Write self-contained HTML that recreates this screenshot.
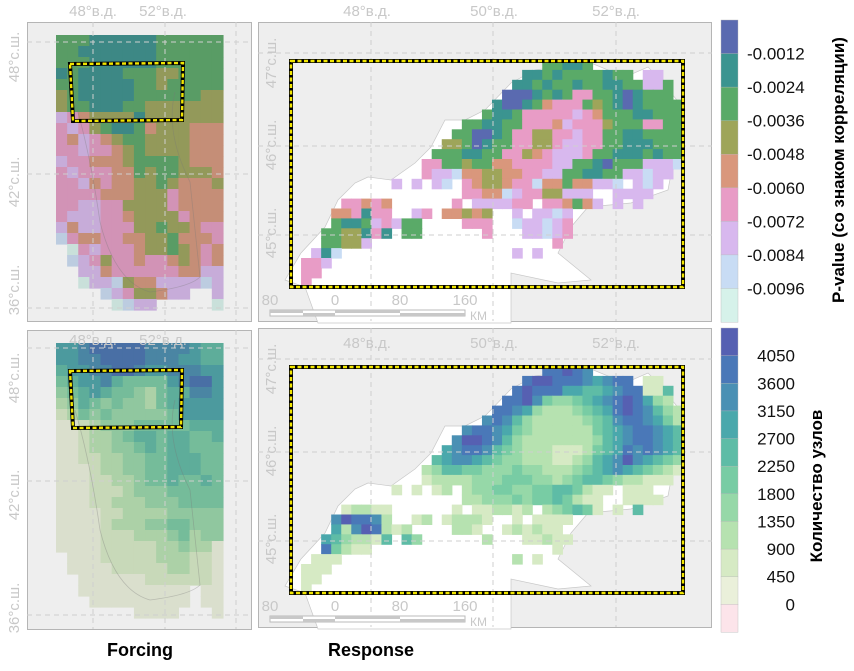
<!DOCTYPE html>
<html><head><meta charset="utf-8">
<style>
body{margin:0;background:#fff;width:854px;height:666px;overflow:hidden;font-family:"Liberation Sans",sans-serif}
svg text{font-family:"Liberation Sans",sans-serif}
</style></head>
<body>
<svg id="fig" width="854" height="666" viewBox="0 0 854 666" xmlns="http://www.w3.org/2000/svg">
<g id="panels"></g>
<g id="legends"></g>
<text x="140" y="656" text-anchor="middle" font-size="18" font-weight="bold">Forcing</text>
<text x="371" y="656" text-anchor="middle" font-size="18" font-weight="bold">Response</text>
</svg>
<script>
// ---- data ----
const pvalColors = ["#5a6ab0","#3b9490","#5aaa68","#9ea55a","#d9977c","#e89cc6","#d8b8ee","#c8dcf4","#d6f2ea"];
const pvalTicks = ["-0.0012","-0.0024","-0.0036","-0.0048","-0.0060","-0.0072","-0.0084","-0.0096"];
const cntColors = ["#5660b2","#4a78b8","#4a90b4","#4aa8ac","#5ebca6","#78cca4","#96d8a8","#b6e2b0","#d6eac4","#eaf0da","#fce4ea"];
const cntTicks = ["4050","3600","3150","2700","2250","1800","1350","900","450","0"];
const forcingP = [
"333222222333333","332222222333333","333222222333333","232222333443333","332222233433333",
"432222233333344","433222334444444","765444424444444","676432235444555","657654334444555",
"667665434444555","766555433334555","676665534334445","667565544345554","666655544465555",
"667766444465555","677766544446555","757766644344566","865566554435556",".96766654434565",
".87646656654565","..7756666665577","..9778455777787","....87644577..7",".....9877.....9"];
const responseP = [
".........................33223.........",
".......................22323333233.77..",
"......................2232332332233773.",
".....................11123236633212333.",
"....................2112356663432123333",
"...................32236666676533322333",
".................3322336665766643336633",
"................33112366446676633223333",
"...............443123366446776633222333",
"..............3332233664567776332223233",
".............66334335566667733213337778",
".............6778554455667733223377877.",
"..........7.7.78.6544566855355778.787..",
".................6655876644777..7777...",
".....66565......6.777766.665357.7.7....",
"....556266..76.55454..7.7787...........",
"....322376733....666..877876...........",
"...3344262.33......6...77876...........",
"...33447..................6............",
"..728.................7.7..............",
".667...................................",
".66....................................",
".6....................................."];
const forcingC = [
"778999998888766","778899998887766","677889987788877","567786555578997","456765543566887",
"346545443567777","235454444457777","112344455555666","112334566566556","112334456566555",
"112233445566655","111233445566655","111223345565565","111222344455555","111223334445555",
"111122333344444","111123334455444","111122233345344","111122222334331",".11122222333221",
".11112222233221","..1111112222221","..1111111111.11","...111111111.11",".......1111...1"];
const responseC = [
".........................99A98.........",
".......................9AA99987899.22..",
"......................9A99977667899226.",
".....................99A854456789A9743.",
"....................9987433345679A98643",
"...................89864333334568998753",
".................8998754333333567899876",
"................8AA98643333333467899876",
"...............789986543332223567989876",
"..............6788765443332234678A87654",
".............34665544454433345678765432",
".............2333344455544345665433222.",
"..........2.2.23.344554455665322.222...",
".................33444545565322..2222...",
".....23322......2.223323.345652.2.6....",
"....8A9983..23.23332..2.2222...........",
"....738A9323....332..232322............",
"...7643326.64......3...22322...........",
"...95322..................2............",
"..222.................3.2..............",
".222...................................",
".22....................................",
".2....................................."];
const sea = [[285,280],[301,253],[325,227],[338,200],[355,183],[368,177],[391,180],[415,163],[431,147],[445,120],[465,120],[485,110],[511,83],[535,70],[591,63],[625,77],[648,67],[658,77],[685,110],[675,153],[668,190],[631,203],[588,207],[571,227],[558,253],[591,280],[558,283],[511,273],[511,323],[318,323],[305,287]];

const NS="http://www.w3.org/2000/svg";
function mk(tag,attrs,parent){const e=document.createElementNS(NS,tag);for(const k in attrs)e.setAttribute(k,attrs[k]);parent.appendChild(e);return e;}
const panels=document.getElementById('panels');
function codeIdx(ch){ if(ch==='.')return -1; if(ch==='A')return 9; return parseInt(ch)-1; }
function grid(parent,rows,x0,y0,cw,ch,colorFn,name){
  const g=mk('g',{},parent);
  
  
  rows.forEach((r,ri)=>{for(let ci=0;ci<r.length;ci++){const k=codeIdx(r[ci]);if(k<0)continue;
    const c=mk('rect',{x:x0+ci*cw,y:y0+ri*ch,width:cw+0.6,height:ch+0.6,fill:colorFn(k)},g);
    
    }});
  return g;
}
const pColor=k=>pvalColors[k];
const cColor=k=>cntColors[9-k];
function dashLine(p,x1,y1,x2,y2){mk('line',{x1,y1,x2,y2,stroke:'#cfcfcf','stroke-width':1,'stroke-dasharray':'5,4'},p);}
function leftPanel(oy,rows,colorFn,name,gy,lonY,latY,box){
  const g=mk('g',{},panels);
  
  
  mk('rect',{x:27.5,y:oy+0.5,width:224,height:299,fill:'#eeeeee',stroke:'#b5b5b5'},g);
  const cg=mk('g',{style:'filter:brightness(0.93) saturate(0.9)'},g);
  grid(cg,rows,56,oy+13,11.13,11,colorFn,name+'-cells');
  [93,165,236].forEach(x=>dashLine(g,x,oy,x,oy+299));
  gy.forEach(y=>dashLine(g,27,y,252,y));
  mk('path',{d:`M75 ${oy+80} Q90 ${oy+130} 100 ${oy+200} Q115 ${oy+260} 150 ${oy+270} Q190 ${oy+265} 200 ${oy+255} L190 ${oy+160} Q165 ${oy+110} 175 ${oy+70}`,fill:'none',stroke:'#777',opacity:0.35,'stroke-width':0.8},g);
  mk('polygon',{points:box,fill:'none',stroke:'#000','stroke-width':4},g);
  const b2=mk('polygon',{points:box,fill:'none',stroke:'#f2e600','stroke-width':2.4,'stroke-dasharray':'4,2.5'},g);
  
  
  [['48°в.д.',93],['52°в.д.',163]].forEach(([t,x])=>{const e=mk('text',{x,y:lonY,'text-anchor':'middle','font-size':15,fill:'#c8c8c8'},g);e.textContent=t;});
  latY.forEach(([t,y])=>{const e=mk('text',{x:0,y:0,transform:`translate(19,${y}) rotate(-90)`,'text-anchor':'middle','font-size':15,fill:'#c8c8c8'},g);e.textContent=t;});
}
function rightPanel(oy,rows,colorFn,name,lonTop){
  const g=mk('g',{},panels);
  
  
  const dy=oy-22;
  mk('rect',{x:258.5,y:oy+0.5,width:453,height:299,fill:'#eeeeee',stroke:'#b5b5b5'},g);
  mk('polygon',{points:sea.map(p=>p[0]+','+(p[1]+dy)).join(' '),fill:'#ffffff',stroke:'#c8c8c8','stroke-width':0.7},g);
  grid(g,rows,291,60+dy,10.05,9.9,colorFn,name+'-cells');
  [371,493,616].forEach(x=>dashLine(g,x,oy,x,oy+299));
  [53,146,235].forEach(y=>dashLine(g,258,y+dy,712,y+dy));
  mk('rect',{x:291,y:61+dy,width:392,height:226,fill:'none',stroke:'#000','stroke-width':4},g);
  const b2=mk('rect',{x:291,y:61+dy,width:392,height:226,fill:'none',stroke:'#f2e600','stroke-width':2.4,'stroke-dasharray':'4,2.5'},g);
  
  
  [['48°в.д.',367],['50°в.д.',494],['52°в.д.',616]].forEach(([t,x])=>{const e=mk('text',{x,y:lonTop,'text-anchor':'middle','font-size':15,fill:'#c8c8c8'},g);e.textContent=t;});
  [['47°с.ш.',63],['46°с.ш.',145],['45°с.ш.',233]].forEach(([t,y])=>{const e=mk('text',{x:0,y:0,transform:`translate(276,${y+dy}) rotate(-90)`,'text-anchor':'middle','font-size':15,fill:'#c8c8c8'},g);e.textContent=t;});
  [['80',270],['0',335],['80',400],['160',465]].forEach(([t,x])=>{const e=mk('text',{x,y:305+dy,'text-anchor':'middle','font-size':15,fill:'#c8c8c8'},g);e.textContent=t;});
  const km=mk('text',{x:470,y:320+dy,'font-size':12,fill:'#c8c8c8'},g);km.textContent='КМ';
  
  
  mk('rect',{x:270,y:310+dy,width:195,height:6,fill:'#fff',stroke:'#bbb'},g);
  mk('rect',{x:270,y:310+dy,width:33,height:3,fill:'#c8c8c8'},g);
  mk('rect',{x:303,y:313+dy,width:32,height:3,fill:'#c8c8c8'},g);
  mk('rect',{x:335,y:310+dy,width:65,height:3,fill:'#c8c8c8'},g);
  mk('rect',{x:400,y:313+dy,width:65,height:3,fill:'#c8c8c8'},g);
}
leftPanel(22,forcingP,pColor,'forcing-pvalue-map',[42,174,308],16,[['48°с.ш.',57],['42°с.ш.',182],['36°с.ш.',290]],'70,64 183,63 182,120 73,121');
leftPanel(330,forcingC,cColor,'forcing-count-map',[348,481,615],345,[['48°с.ш.',378],['42°с.ш.',495],['36°с.ш.',608]],'70,371 182,370 181,427 73,428');
rightPanel(22,responseP,pColor,'response-pvalue-map',16);
rightPanel(328,responseC,cColor,'response-count-map',348);

const lg=document.getElementById('legends');
function colorbar(y0,h,colors,ticks,name,anchor,tx,title,titleX,titleY){
  const g=mk('g',{},lg);
  
  
  const bh=h/colors.length;
  colors.forEach((c,i)=>{const r=mk('rect',{x:721,y:y0+i*bh,width:17,height:bh+0.3,fill:c,stroke:'#b8b8b8','stroke-width':0.4},g);});
  ticks.forEach((t,i)=>{const e=mk('text',{x:tx,y:y0+(i+1)*bh+6,'text-anchor':anchor,'font-size':17,fill:'#111'},g);e.textContent=t;});
  const e=mk('text',{x:0,y:0,transform:`translate(${titleX},${titleY}) rotate(-90)`,'text-anchor':'middle','font-size':17,'font-weight':'bold',fill:'#000'},g);
  e.textContent=title;
  
  
}
colorbar(20,302,pvalColors,pvalTicks,'pvalue-colorbar','start',747,'P-value (со знаком корреляции)',844,170);
colorbar(328,304,cntColors,cntTicks,'count-colorbar','end',795,'Количество узлов',822,486);
</script>
</body></html>
